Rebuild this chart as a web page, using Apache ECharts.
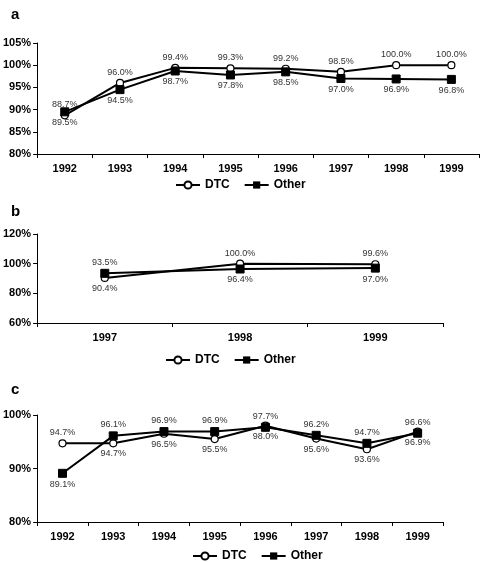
<!DOCTYPE html>
<html><head><meta charset="utf-8">
<script src="https://cdn.jsdelivr.net/npm/echarts@6/dist/echarts.min.js"></script>
<style>html,body{margin:0;padding:0;background:#fff}#c{width:481px;height:562px}</style>
</head><body><div id="c"></div>
<script>
const yearsA = ['1992','1993','1994','1995','1996','1997','1998','1999'];
const dtcA   = [88.7, 96.0, 99.4, 99.3, 99.2, 98.5, 100.0, 100.0];
const otherA = [89.5, 94.5, 98.7, 97.8, 98.5, 97.0, 96.9, 96.8];

const yearsB = ['1997','1998','1999'];
const dtcB   = [90.4, 100.0, 99.6];
const otherB = [93.5, 96.4, 97.0];

const yearsC = ['1992','1993','1994','1995','1996','1997','1998','1999'];
const dtcC   = [94.7, 94.7, 96.5, 95.5, 98.0, 95.6, 93.6, 96.9];
const otherC = [89.1, 96.1, 96.9, 96.9, 97.7, 96.2, 94.7, 96.6];

const FONT = 'Liberation Sans, Arial, sans-serif';

function items(vals, pos) {
  return vals.map((v, i) => ({ value: v, label: { position: pos[i] } }));
}
function lbl() {
  return { show: true, fontFamily: FONT, fontSize: 9, color: '#333', distance: 2,
           formatter: p => p.value.toFixed(1) + '%' };
}
function dtcSeries(idx, vals, pos) {
  return { name: 'DTC', type: 'line', xAxisIndex: idx, yAxisIndex: idx, data: items(vals, pos),
    symbol: 'circle', symbolSize: 7, lineStyle: { color: '#000', width: 2 },
    itemStyle: { color: '#fff', borderColor: '#000', borderWidth: 1.2 }, label: lbl(), z: 2 };
}
function otherSeries(idx, vals, pos) {
  return { name: 'Other', type: 'line', xAxisIndex: idx, yAxisIndex: idx, data: items(vals, pos),
    symbol: 'rect', symbolSize: 8, lineStyle: { color: '#000', width: 2 },
    itemStyle: { color: '#000', borderColor: '#000' }, label: lbl(), z: 3 };
}
function xAx(idx, cats) {
  return { type: 'category', gridIndex: idx, data: cats, boundaryGap: true,
    axisLine: { lineStyle: { color: '#000', width: 1 } },
    axisTick: { show: true, interval: 0, length: 4, lineStyle: { color: '#000' } },
    axisLabel: { fontFamily: FONT, fontWeight: 'bold', fontSize: 11, color: '#000', margin: 9, interval: 0 } };
}
function yAx(idx, min, max, step) {
  return { type: 'value', gridIndex: idx, min: min, max: max, interval: step,
    axisLine: { show: true, lineStyle: { color: '#000', width: 1 } },
    axisTick: { show: true, length: 4, lineStyle: { color: '#000' } },
    splitLine: { show: false },
    axisLabel: { fontFamily: FONT, fontWeight: 'bold', fontSize: 11, color: '#000', margin: 6,
      formatter: '{value}%' } };
}
function legend(left, top) {
  return { data: ['DTC', 'Other'], left: left, top: top, itemWidth: 24, itemHeight: 9, itemGap: 14,
    textStyle: { fontFamily: FONT, fontWeight: 'bold', fontSize: 12, color: '#000' } };
}

const chart = echarts.init(document.getElementById('c'), null, { renderer: 'canvas' });
chart.setOption({
  animation: false,
  title: [
    { text: 'a', left: 6, top: 2, textStyle: { fontFamily: FONT, fontWeight: 'bold', fontSize: 15, color: '#000' } },
    { text: 'b', left: 6, top: 199, textStyle: { fontFamily: FONT, fontWeight: 'bold', fontSize: 15, color: '#000' } },
    { text: 'c', left: 6, top: 377, textStyle: { fontFamily: FONT, fontWeight: 'bold', fontSize: 15, color: '#000' } }
  ],
  legend: [ legend(170, 174), legend(160, 349), legend(187, 545) ],
  grid: [
    { left: 36.5, top: 43, width: 442.5, height: 111 },
    { left: 37, top: 234, width: 406, height: 89 },
    { left: 35, top: 415, width: 408, height: 107 }
  ],
  xAxis: [ xAx(0, yearsA), xAx(1, yearsB), xAx(2, yearsC) ],
  yAxis: [ yAx(0, 80, 105, 5), yAx(1, 60, 120, 20), yAx(2, 80, 100, 10) ],
  series: [
    dtcSeries(0, dtcA, ['top','top','top','top','top','top','top','top']),
    otherSeries(0, otherA, ['bottom','bottom','bottom','bottom','bottom','bottom','bottom','bottom']),
    dtcSeries(1, dtcB, ['bottom','top','top']),
    otherSeries(1, otherB, ['top','bottom','bottom']),
    dtcSeries(2, dtcC, ['top','bottom','bottom','bottom','bottom','bottom','bottom','bottom']),
    otherSeries(2, otherC, ['bottom','top','top','top','top','top','top','top'])
  ]
});
</script></body></html>
